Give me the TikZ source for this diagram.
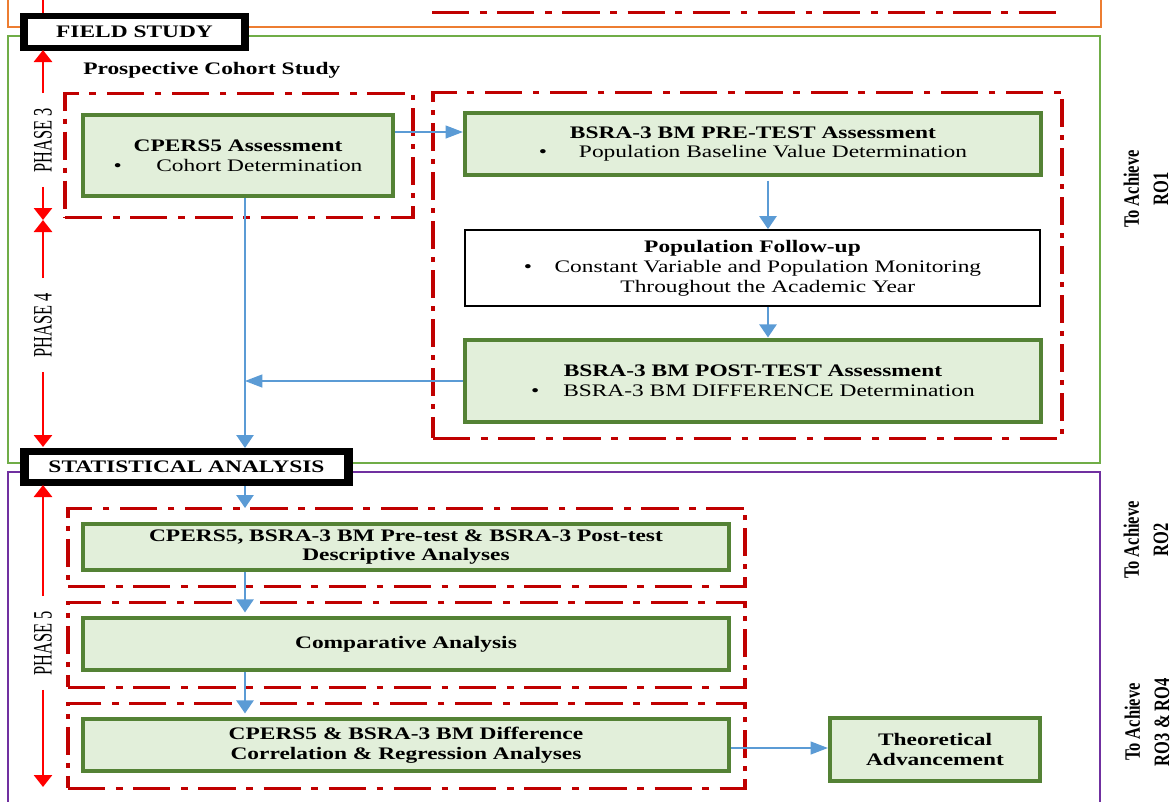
\documentclass[tikz,border=0pt]{standalone}
\usepackage{fontspec}
\setmainfont{Liberation Serif}
\usetikzlibrary{arrows.meta,fit}

\definecolor{zonered}{HTML}{C00000}
\definecolor{boxgreen}{HTML}{548235}
\definecolor{boxfill}{HTML}{E2EFDA}
\definecolor{framegreen}{HTML}{70AD47}
\definecolor{frameorange}{HTML}{ED7D31}
\definecolor{framepurple}{HTML}{7030A0}
\definecolor{flowblue}{HTML}{5B9BD5}

\newcommand{\bxfont}{\fontsize{17.6pt}{19.8pt}\selectfont}
\newcommand{\phfont}{\fontsize{20pt}{22pt}\selectfont}
\newcommand{\glfont}{\fontsize{16.5pt}{22pt}\selectfont\bfseries}

\tikzset{
  frame/.style={line width=1.8pt},
  zone/.style={draw=zonered, line width=3pt, dash pattern=on 28pt off 8pt on 5pt off 8pt,
    inner sep=0pt, outer sep=0pt},
  gbox/.style={draw=boxgreen, fill=boxfill, line width=3.2pt, inner sep=0pt},
  wbox/.style={draw=black, fill=white, line width=1.8pt, inner sep=0pt},
  headbox/.style={draw=black, fill=white, inner sep=0pt},
  txt/.style={align=center, inner sep=0pt, font=\bxfont},
  btxt/.style={txt, font=\bxfont\bfseries},
  flow/.style={draw=flowblue, line width=1.2pt, -{Triangle[length=13pt,width=13pt]}},
  span/.style={draw=red, line width=2.2pt, -{Triangle[length=12pt,width=13.5pt]}},
  phase/.style={rotate=90, xscale=0.82, inner xsep=18pt, inner ysep=0pt, outer sep=0pt, font=\phfont},
  goal/.style={rotate=90, align=center, inner sep=0pt, font=\glfont},
}

\begin{document}
\begin{tikzpicture}[x=1pt,y=-1pt]
\useasboundingbox (0,0) rectangle (1176,801);
\begin{scope}[transform canvas={xscale=1.33}, x=0.75188pt]

  % section frames
  \draw[frame, frameorange] (8,-10) rectangle (1101,27);
  \draw[frame, framegreen] (8,36) rectangle (1100,463);
  \draw[frame, framepurple] (8,472) rectangle (1100,815);

  % tail of the preceding phase
  \draw[zone] (432,12) -- (1066,12);
  \draw[draw=red, line width=2.2pt] (43,-5) -- (43,18);

  % dash-dot groupings
  \node[zone, fit={(65,93) (413,217)}] (zoneA) {};
  \node[zone, fit={(433,92) (1062,438)}] (zoneB) {};
  \node[zone, fit={(68,508) (745,586)}] (zoneC) {};
  \node[zone, fit={(68,602) (745,687)}] (zoneD) {};
  \node[zone, fit={(68,703) (745,788)}] (zoneE) {};

  % field study steps
  \node[gbox, fit={(83,115) (393,196)}] (cpers) {};
  \node[txt] at (cpers.center)
    {\textbf{CPERS5 Assessment}\\\textbullet\hspace{26pt}Cohort Determination};
  \node[gbox, fit={(465,113) (1041,175)}] (pre) {};
  \node[txt] at (pre.center)
    {\textbf{BSRA-3 BM PRE-TEST Assessment}\\\textbullet\hspace{24pt}Population Baseline Value Determination};
  \node[wbox, fit={(465,230) (1040,306)}] (follow) {};
  \node[txt] at (follow.center)
    {\textbf{Population Follow-up}\\\textbullet\hspace{17pt}Constant Variable and Population Monitoring\\\hspace*{23pt}Throughout the Academic Year};
  \node[gbox, fit={(465,340) (1041,422)}] (post) {};
  \node[txt] at (post.center)
    {\textbf{BSRA-3 BM POST-TEST Assessment}\\\textbullet\hspace{18pt}BSRA-3 BM DIFFERENCE Determination};

  % statistical analysis steps
  \node[gbox, fit={(83,524) (729,570)}] (desc) {};
  \node[btxt] at (desc.center) {CPERS5, BSRA-3 BM Pre-test \& BSRA-3 Post-test\\Descriptive Analyses};
  \node[gbox, fit={(83,618) (729,670)}] (comp) {};
  \node[btxt] at (comp.center) {Comparative Analysis};
  \node[gbox, fit={(83,719) (729,771)}] (corr) {};
  \node[btxt] at (corr.center) {CPERS5 \& BSRA-3 BM Difference\\Correlation \& Regression Analyses};
  \node[gbox, fit={(830,718) (1040,781)}] (theo) {};
  \node[btxt] at (theo.center) {Theoretical\\Advancement};

  % section headings
  \node[headbox, line width=6pt, fit={(24,16) (245,48)}] (field) {};
  \node[btxt] at (field.center) {FIELD STUDY};
  \node[headbox, line width=7pt, fit={(24.5,451.5) (348.5,482.5)}] (stat) {};
  \node[btxt] at (stat.center) {STATISTICAL ANALYSIS};
  \node[anchor=base west, inner sep=0pt, font=\bxfont\bfseries] (cohort) at (83,74)
    {Prospective Cohort Study};

  % phase spans
  \coordinate (p3top) at (43,50);
  \coordinate (p3bot) at (43,220);
  \coordinate (p4bot) at (43,447);
  \coordinate (p5top) at (43,485);
  \coordinate (p5bot) at (43,787);
  \node[phase] (ph3) at (43,140) {PHASE 3};
  \node[phase] (ph4) at (43,325) {PHASE 4};
  \node[phase] (ph5) at (43,643) {PHASE 5};
  \draw[span] (ph3) -- (p3top);
  \draw[span] (ph3) -- (p3bot);
  \draw[span] (ph4) -- (p3bot);
  \draw[span] (ph4) -- (p4bot);
  \draw[span] (ph5) -- (p5top);
  \draw[span] (ph5) -- (p5bot);

  % research objectives
  \node[goal] (ro1) at (1146,189) {To Achieve\\RO1};
  \node[goal] (ro2) at (1146,540) {To Achieve\\RO2};
  \node[goal] (ro34) at (1147,722) {To Achieve\\RO3 \& RO4};

  % flow connectors
  \coordinate (hline) at (0,132);
  \coordinate (spine) at (245,0);
  \coordinate (vline) at (768,0);
  \coordinate (tline) at (0,748);
  \draw[flow] (cpers.east |- hline) -- (pre.west |- hline);
  \draw[flow, shorten <=4pt] (pre.south -| vline) -- (follow.north -| vline);
  \draw[flow, shorten >=1pt] (follow.south -| vline) -- (post.north -| vline);
  \draw[flow] (post.west) -- (post.west -| spine);
  \draw[flow] (cpers.south -| spine) -- (stat.north -| spine);
  \draw[flow] (stat.south -| spine) -- (zoneC.north -| spine);
  \draw[flow, shorten >=4pt] (desc.south -| spine) -- (comp.north -| spine);
  \draw[flow, shorten >=4pt] (comp.south -| spine) -- (corr.north -| spine);
  \draw[flow] (corr.east |- tline) -- (theo.west |- tline);

\end{scope}
\end{tikzpicture}
\end{document}
